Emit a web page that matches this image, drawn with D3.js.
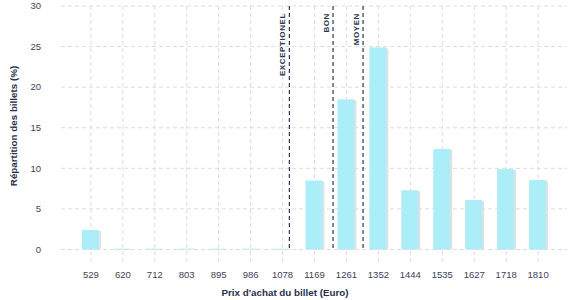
<!DOCTYPE html>
<html>
<head>
<meta charset="utf-8">
<script src="https://cdn.jsdelivr.net/npm/d3@7"></script>
<style>
  body { margin: 0; background: #fff; }
  svg { font-family: "Liberation Sans", Arial, sans-serif; }
</style>
</head>
<body>
<svg id="chart"></svg>
<script>
// prix des billets (catégories) et répartition en %
const prix = ["529", "620", "712", "803", "895", "986", "1078", "1169", "1261", "1352", "1444", "1535", "1627", "1718", "1810"];
const repartition = [2.4, 0.1, 0.1, 0.1, 0.1, 0.1, 0.1, 8.5, 18.5, 24.9, 7.3, 12.4, 6.1, 9.9, 8.55];
const yTicks = [0, 5, 10, 15, 20, 25, 30];
// seuils de qualité (prix en euros)
const seuilNoms = ["EXCEPTIONEL", "BON", "MOYEN"];
const seuilPrix = [1099, 1224, 1310];

const width = 577;
const height = 300;
const margin = { top: 6, right: 10, bottom: 50.5, left: 61 };

const svg = d3.select("#chart")
    .attr("width", width)
    .attr("height", height);

const x = d3.scalePoint()
    .domain(prix)
    .range([margin.left, width - margin.right])
    .padding(0.92);

const y = d3.scaleLinear()
    .domain([0, 30])
    .range([height - margin.bottom, margin.top]);

// échelle continue des prix pour placer les seuils
const xPrix = d3.scaleLinear()
    .domain([+prix[0], +prix[prix.length - 1]])
    .range([x(prix[0]), x(prix[prix.length - 1])]);

// grille horizontale
svg.append("g")
    .selectAll("line")
    .data(yTicks)
    .enter()
    .append("line")
    .attr("x1", margin.left)
    .attr("x2", width - margin.right)
    .attr("y1", d => y(d))
    .attr("y2", d => y(d))
    .attr("stroke", "#dcdcdc")
    .attr("stroke-dasharray", "4,3");

// grille verticale
svg.append("g")
    .selectAll("line")
    .data(prix)
    .enter()
    .append("line")
    .attr("x1", d => x(d) + 0.5)
    .attr("x2", d => x(d) + 0.5)
    .attr("y1", margin.top)
    .attr("y2", height - margin.bottom + 12)
    .attr("stroke", "#dcdcdc")
    .attr("stroke-dasharray", "4,3");

const barW = 17;
const series = prix.map((p, i) => ({ key: p, value: repartition[i] }));

// ombre des barres
svg.append("g")
    .selectAll("rect")
    .data(series)
    .enter()
    .append("rect")
    .attr("x", d => x(d.key) - barW / 2 + 2)
    .attr("y", d => y(d.value) + 1)
    .attr("width", barW)
    .attr("height", d => y(0) - y(d.value) - 1)
    .attr("fill", "#e2e2e2");

svg.append("g")
    .selectAll("rect")
    .data(series)
    .enter()
    .append("rect")
    .attr("x", d => x(d.key) - barW / 2)
    .attr("y", d => y(d.value))
    .attr("width", barW)
    .attr("height", d => y(0) - y(d.value))
    .attr("fill", "#abeef8");

// seuils
const seuils = svg.append("g")
    .selectAll("g")
    .data(seuilNoms.map((n, i) => ({ nom: n, prix: seuilPrix[i] })))
    .enter()
    .append("g");

seuils.append("line")
    .attr("x1", d => xPrix(d.prix))
    .attr("x2", d => xPrix(d.prix))
    .attr("y1", y(30))
    .attr("y2", y(0))
    .attr("stroke", "#2b3650")
    .attr("stroke-width", 1.2)
    .attr("stroke-dasharray", "4,3");

seuils.append("text")
    .attr("transform", d => `translate(${xPrix(d.prix) - 4}, ${margin.top + 7}) rotate(-90)`)
    .attr("text-anchor", "end")
    .style("font-size", "8px")
    .style("font-weight", "bold")
    .style("letter-spacing", "0.6px")
    .attr("fill", "#2b3650")
    .text(d => d.nom);

// axe Y
svg.append("g")
    .selectAll("text")
    .data(yTicks)
    .enter()
    .append("text")
    .attr("x", 41)
    .attr("y", d => y(d))
    .attr("dy", "0.35em")
    .attr("text-anchor", "end")
    .style("font-size", "9.5px")
    .attr("fill", "#3c4257")
    .text(d => d);

// axe X
svg.append("g")
    .selectAll("text")
    .data(prix)
    .enter()
    .append("text")
    .attr("x", d => x(d) + 0.5)
    .attr("y", 278)
    .attr("text-anchor", "middle")
    .style("font-size", "9.5px")
    .attr("fill", "#3c4257")
    .text(d => d);

svg.append("text")
    .attr("x", 285)
    .attr("y", 296)
    .attr("text-anchor", "middle")
    .style("font-size", "9.8px")
    .style("font-weight", "bold")
    .attr("fill", "#26304a")
    .text("Prix d'achat du billet (Euro)");

svg.append("text")
    .attr("transform", "translate(17, 126) rotate(-90)")
    .attr("text-anchor", "middle")
    .style("font-size", "9.8px")
    .style("font-weight", "bold")
    .attr("fill", "#26304a")
    .text("Répartition des billets (%)");
</script>
</body>
</html>
